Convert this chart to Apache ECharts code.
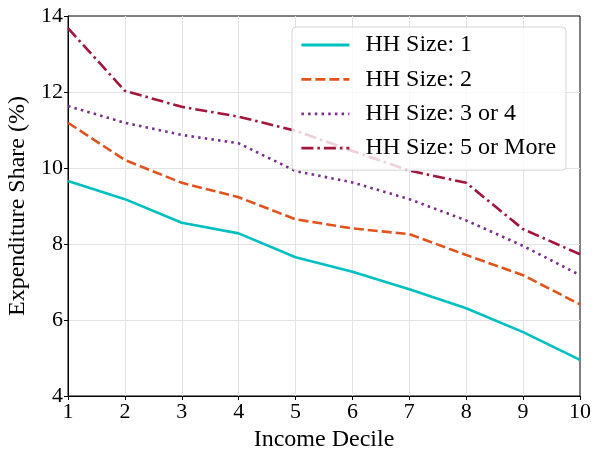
<!DOCTYPE html>
<html>
<head>
<meta charset="utf-8">
<script src="https://cdn.jsdelivr.net/npm/echarts@6/dist/echarts.min.js"></script>
<style>html,body{margin:0;padding:0;background:#fff}#c{width:592px;height:454px}</style>
</head>
<body>
<div id="c"></div>
<script>
const deciles = [1, 2, 3, 4, 5, 6, 7, 8, 9, 10];
const seriesNames = ['HH Size: 1', 'HH Size: 2', 'HH Size: 3 or 4', 'HH Size: 5 or More'];
const hh1 = [9.66, 9.18, 8.56, 8.28, 7.65, 7.27, 6.81, 6.31, 5.68, 4.95];
const hh2 = [11.19, 10.21, 9.61, 9.23, 8.65, 8.41, 8.26, 7.71, 7.18, 6.41];
const hh34 = [11.63, 11.19, 10.87, 10.65, 9.92, 9.62, 9.18, 8.62, 7.95, 7.18];
const hh5 = [13.68, 12.03, 11.61, 11.35, 10.98, 10.45, 9.93, 9.61, 8.39, 7.73];
const yTicks = [4, 6, 8, 10, 12, 14];

const font = 'Liberation Serif';
const colors = ['#00bfc0', '#e2531c', '#7b2c8f', '#a3163c'];
const dashes = ['solid', [10, 4], [2.5, 4.2], [12, 4, 2.5, 4]];
const dataSets = [hh1, hh2, hh34, hh5];

const chart = echarts.init(document.getElementById('c'));
chart.setOption({
  animation: false,
  backgroundColor: '#fff',
  grid: { left: 68, right: 12, top: 16, bottom: 58, show: true, borderColor: '#000', borderWidth: 1, backgroundColor: 'transparent', containLabel: false, outerBoundsMode: 'none' },
  legend: {
    orient: 'vertical',
    left: 292, top: 27,
    data: seriesNames,
    itemWidth: 48, itemHeight: 14, itemGap: 10.4,
    padding: [6, 10, 10, 8],
    backgroundColor: 'rgba(255,255,255,0.8)',
    borderColor: '#d6d6d6', borderWidth: 1, borderRadius: 4,
    itemStyle: { opacity: 0 },
    lineStyle: { width: 2.8 },
    textStyle: { fontFamily: font, fontSize: 24, color: '#000', lineHeight: 24, padding: [0, 0, 0, 11] }
  },
  xAxis: {
    type: 'value', min: 1, max: 10, interval: 1,
    name: 'Income Decile', nameLocation: 'middle', nameGap: 32,
    nameTextStyle: { fontFamily: font, fontSize: 24, color: '#000' },
    axisLine: { show: true, lineStyle: { color: '#000', width: 1 } },
    axisTick: { show: true, length: 4, lineStyle: { color: '#000' } },
    axisLabel: { fontFamily: font, fontSize: 22, color: '#000', margin: 5 },
    splitLine: { show: true, showMinLine: false, showMaxLine: false, lineStyle: { color: '#e3e3e3', width: 1 } }
  },
  yAxis: {
    type: 'value', min: yTicks[0], max: yTicks[yTicks.length - 1], interval: 2,
    name: 'Expenditure Share (%)', nameLocation: 'middle', nameGap: 38,
    nameTextStyle: { fontFamily: font, fontSize: 24, color: '#000' },
    axisLine: { show: true, lineStyle: { color: '#000', width: 1 } },
    axisTick: { show: true, length: 4, lineStyle: { color: '#000' } },
    axisLabel: { fontFamily: font, fontSize: 22, color: '#000', margin: 5 },
    splitLine: { show: true, showMinLine: false, showMaxLine: false, lineStyle: { color: '#e3e3e3', width: 1 } }
  },
  series: dataSets.map((d, i) => ({
    name: seriesNames[i],
    type: 'line',
    symbol: 'none',
    data: deciles.map((x, j) => [x, d[j]]),
    lineStyle: { color: colors[i], width: 2.6, type: dashes[i] },
    itemStyle: { color: colors[i] }
  }))
});
</script>
</body>
</html>
